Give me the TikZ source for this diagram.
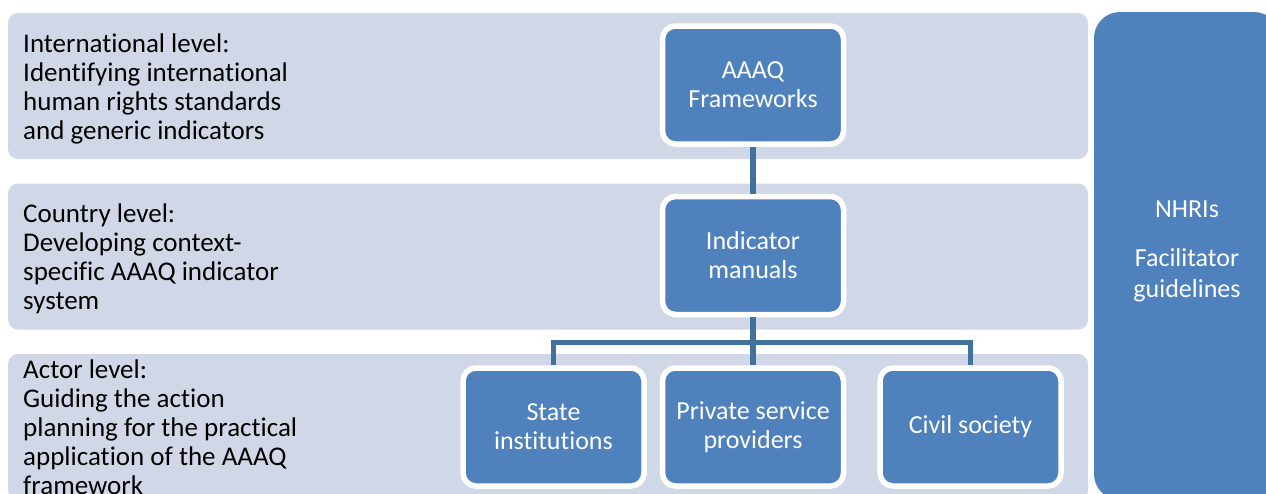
\documentclass[tikz,border=0pt]{standalone}
\usepackage{fontspec}
\setmainfont{Carlito}[Ligatures=NoCommon]
\usetikzlibrary{positioning}
\usepackage{xcolor}

\definecolor{bandgray}{HTML}{D0D8E8}
\definecolor{boxblue}{HTML}{4F81BD}
\definecolor{linkblue}{HTML}{41719C}

\begin{document}
\begin{tikzpicture}[x=1pt,y=-1pt,node distance=47pt,
    band/.style={rectangle,fill=bandgray,rounded corners=10pt,minimum width=1080pt,
      minimum height=146pt,inner sep=0pt,outer sep=0pt},
    band text/.style={anchor=north west,align=left,inner sep=0pt,
      font=\fontsize{27}{29}\selectfont},
    level box/.style={rectangle,rounded corners=13pt,fill=boxblue,draw=white,
      line width=5.5pt,minimum width=181pt,minimum height=118pt,align=center,
      text=white,font=\fontsize{26}{29}\selectfont},
    side box/.style={rectangle,rounded corners=26pt,fill=boxblue,minimum width=186pt,
      minimum height=488pt},
    side text/.style={align=center,text=white,inner sep=0pt,font=\fontsize{26}{31}\selectfont},
    link/.style={draw=linkblue,line width=5.5pt}]
  \useasboundingbox (0,0) rectangle (1266,493);
  \clip (0,0) rectangle (1266,493);

  % Bands
  \node[band] (intl) at (548,86) {};
  \node[band] (country) at (548,256.5) {};
  \node[band] (actor) at (548,427) {};
  \node[band text] (intltext) at ([xshift=15pt,yshift=-21pt]intl.north west)
    {International level:\\Identifying international\\human rights standards\\and generic indicators};
  \node[band text] (countrytext) at ([xshift=15pt,yshift=-20pt]country.north west)
    {Country level:\\Developing context-\\specific AAAQ indicator\\system};
  \node[band text] (actortext) at ([xshift=15pt,yshift=-6pt]actor.north west)
    {Actor level:\\Guiding the action\\planning for the practical\\application of the AAAQ\\framework};

  % Nodes
  \node[level box] (aaaq) at (753,85) {AAAQ\\Frameworks};
  \node[level box] (ind) [below=of aaaq] {Indicator\\manuals};
  \node[level box] (priv) [below=48pt of ind] {Private service\\providers};
  \node[level box] (state) [left=13pt of priv] {State\\institutions};
  \node[level box] (civil) [right=31pt of priv] {Civil society};
  \node[side box] (nhri) at (1187,256) {};
  \node[side text] (nhritext) at ([yshift=5pt]nhri.center) {NHRIs\\[18pt]Facilitator\\guidelines};

  % Edges
  \coordinate (split) at ([yshift=-25pt]ind.south);
  \draw[link] (aaaq) -- (ind);
  \draw[link] (ind.south) -- (priv.north);
  \draw[link] (state.north) |- (split) -| (civil.north);
\end{tikzpicture}
\end{document}
